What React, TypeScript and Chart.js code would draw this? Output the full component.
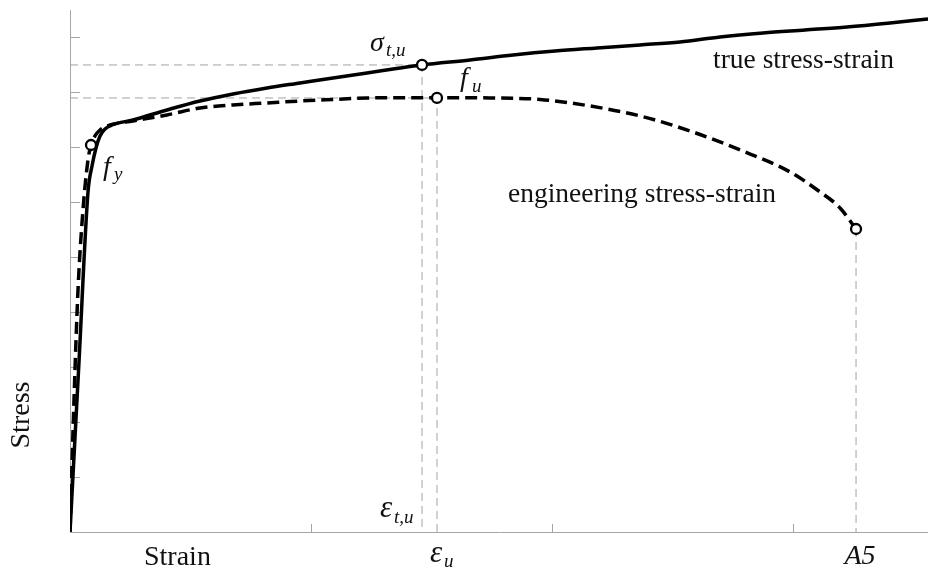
import React, { useEffect, useRef } from "react";
import { Chart, registerables } from "chart.js";

Chart.register(...registerables);

// ---- data (strain / stress in arbitrary units) ----
const trueStrain = [0, 0.0373, 0.0747, 0.0913, 0.1079, 0.1245, 0.1452, 0.1743, 0.2614, 0.4025, 0.5394, 0.6763, 0.8174, 0.9544, 1.0913, 1.2324, 1.3693, 1.4606, 1.6598, 1.8382, 2.0124, 2.1867, 2.3651, 2.5311, 2.6971, 2.8755, 3.0498, 3.2241, 3.4025, 3.5602];
const trueStress = [0, 3.091, 6.182, 6.655, 6.982, 7.2, 7.327, 7.4, 7.491, 7.673, 7.836, 7.964, 8.073, 8.164, 8.255, 8.345, 8.436, 8.491, 8.582, 8.673, 8.745, 8.8, 8.855, 8.909, 9.0, 9.073, 9.127, 9.182, 9.255, 9.327];

const engStrain = [0, 0.0166, 0.0332, 0.0539, 0.0747, 0.0871, 0.1037, 0.1245, 0.166, 0.2614, 0.4025, 0.5394, 0.6763, 0.8174, 0.9544, 1.0913, 1.2324, 1.3693, 1.5228, 1.7427, 1.9502, 2.1577, 2.3651, 2.5726, 2.7801, 2.9876, 3.112, 3.195, 3.2614];
const engStress = [0, 2.4, 4.4, 5.855, 6.764, 7.036, 7.2, 7.309, 7.4, 7.473, 7.582, 7.709, 7.764, 7.8, 7.836, 7.864, 7.891, 7.896, 7.896, 7.891, 7.864, 7.745, 7.564, 7.291, 6.945, 6.545, 6.182, 5.891, 5.509];

const xTickValues = [0, 1, 2, 3];
const yTickValues = [1, 2, 3, 4, 5, 6, 7, 8, 9];
const X_MAX = 3.56;
const Y_MAX = 9.49;

// key points
const epsY = 0.0871;
const fY = 7.036;
const epsTU = 1.4606;
const sigmaTU = 8.491;
const epsU = 1.5228;
const fU = 7.891;
const epsA5 = 3.2614;
const fA5 = 5.509;

const SERIF = '"Liberation Serif", "Times New Roman", Times, serif';
const AXIS = "#a6a6a6";
const GUIDE = "#a3a3a3";
const INK = "#111111";

const innerTicks = {
  id: "innerTicks",
  beforeDatasetsDraw(chart: any) {
    const { ctx, chartArea, scales } = chart;
    const xs = scales.x;
    const ys = scales.y;
    ctx.save();
    ctx.strokeStyle = AXIS;
    ctx.lineWidth = 1;
    ctx.beginPath();
    for (const t of xs.ticks) {
      const p = Math.round(xs.getPixelForValue(t.value)) + 0.5;
      ctx.moveTo(p, chartArea.bottom);
      ctx.lineTo(p, chartArea.bottom - 8);
    }
    for (const t of ys.ticks) {
      const p = Math.round(ys.getPixelForValue(t.value)) + 0.5;
      ctx.moveTo(chartArea.left, p);
      ctx.lineTo(chartArea.left + 10, p);
    }
    ctx.stroke();
    ctx.restore();
  },
};

const textLabels = {
  id: "textLabels",
  afterDraw(chart: any) {
    const { ctx, chartArea, scales } = chart;
    const px = (v: number) => scales.x.getPixelForValue(v);
    const py = (v: number) => scales.y.getPixelForValue(v);
    ctx.save();
    ctx.fillStyle = INK;
    ctx.textBaseline = "alphabetic";
    ctx.textAlign = "left";
    const sym = (main: string, sub: string, left: number, base: number, subDx: number, subDy: number, mainSize = 28) => {
      ctx.font = `italic ${mainSize}px ${SERIF}`;
      ctx.fillText(main, left, base);
      ctx.font = `italic 19px ${SERIF}`;
      ctx.fillText(sub, left + subDx, base + subDy);
    };

    ctx.font = `27.5px ${SERIF}`;
    ctx.fillText("true stress-strain", 713, 68);
    ctx.fillText("engineering stress-strain", 508, 202);

    sym("\u03C3", "t,u", px(epsTU) - 52, py(sigmaTU) - 14, 16, 5);
    sym("f", "u", px(epsU) + 23, py(fU) - 12, 12, 6);
    sym("f", "y", px(epsY) + 12, py(fY) + 30, 11, 5);
    sym("\u03B5", "t,u", px(epsTU) - 42, chartArea.bottom - 15, 14, 6, 31);
    sym("\u03B5", "u", px(epsU) - 7, chartArea.bottom + 30, 14, 5, 31);

    ctx.font = `italic 28px ${SERIF}`;
    ctx.textAlign = "center";
    ctx.fillText("A5", px(epsA5) + 4, chartArea.bottom + 32);

    ctx.font = `28px ${SERIF}`;
    ctx.textAlign = "left";
    ctx.fillText("Strain", 144, chartArea.bottom + 33);

    ctx.translate(22, 415);
    ctx.rotate(-Math.PI / 2);
    ctx.textAlign = "center";
    ctx.textBaseline = "middle";
    ctx.fillText("Stress", 0, 0);
    ctx.restore();
  },
};

export default function App() {
  const ref = useRef<HTMLCanvasElement | null>(null);

  useEffect(() => {
    document.body.style.margin = "0";
    const canvas = ref.current;
    if (!canvas) return;

    const toPts = (xs: number[], ys: number[]) => xs.map((v, i) => ({ x: v, y: ys[i] }));

    const chart = new Chart(canvas, {
      type: "scatter",
      data: {
        datasets: [
          {
            label: "points",
            data: [
              { x: epsY, y: fY },
              { x: epsTU, y: sigmaTU },
              { x: epsU, y: fU },
              { x: epsA5, y: fA5 },
            ],
            showLine: false,
            pointRadius: 5,
            pointBorderWidth: 2.3,
            pointBackgroundColor: "#ffffff",
            pointBorderColor: "#000000",
            order: 0,
            clip: false,
          } as any,
          {
            label: "true stress-strain",
            data: toPts(trueStrain, trueStress),
            showLine: true,
            borderColor: "#000000",
            borderWidth: 3.5,
            pointRadius: 0,
            cubicInterpolationMode: "monotone",
            order: 1,
          } as any,
          {
            label: "engineering stress-strain",
            data: toPts(engStrain, engStress),
            showLine: true,
            borderColor: "#000000",
            borderWidth: 3.5,
            borderDash: [12, 6],
            pointRadius: 0,
            cubicInterpolationMode: "monotone",
            order: 2,
          } as any,
          {
            label: "guide sigma",
            data: [
              { x: 0, y: sigmaTU },
              { x: epsTU, y: sigmaTU },
              { x: epsTU, y: 0 },
            ],
            showLine: true,
            borderColor: GUIDE,
            borderWidth: 1,
            borderDash: [8, 5],
            pointRadius: 0,
            order: 3,
          } as any,
          {
            label: "guide fu",
            data: [
              { x: 0, y: fU },
              { x: epsU, y: fU },
              { x: epsU, y: 0 },
            ],
            showLine: true,
            borderColor: GUIDE,
            borderWidth: 1,
            borderDash: [8, 5],
            pointRadius: 0,
            order: 3,
          } as any,
          {
            label: "guide A5",
            data: [
              { x: epsA5, y: fA5 },
              { x: epsA5, y: 0 },
            ],
            showLine: true,
            borderColor: GUIDE,
            borderWidth: 1,
            borderDash: [8, 5],
            pointRadius: 0,
            order: 3,
          } as any,
        ],
      },
      options: {
        responsive: false,
        devicePixelRatio: 1,
        animation: false,
        layout: { autoPadding: false, padding: { left: 70, right: 0, top: 10, bottom: 37 } },
        plugins: {
          legend: { display: false },
          tooltip: { enabled: false },
        },
        events: [],
        scales: {
          x: {
            type: "linear",
            min: 0,
            max: X_MAX,
            ticks: { display: false },
            grid: { display: false, drawTicks: false },
            border: { display: true, color: AXIS, width: 1 },
            afterBuildTicks: (s: any) => {
              s.ticks = xTickValues.map((v) => ({ value: v }));
            },
          },
          y: {
            type: "linear",
            min: 0,
            max: Y_MAX,
            ticks: { display: false },
            grid: { display: false, drawTicks: false },
            border: { display: true, color: AXIS, width: 1 },
            afterBuildTicks: (s: any) => {
              s.ticks = yTickValues.map((v) => ({ value: v }));
            },
          },
        },
      } as any,
      plugins: [innerTicks, textLabels],
    });

    return () => chart.destroy();
  }, []);

  return (
    <div style={{ position: "fixed", left: 0, top: 0, width: 928, height: 569, background: "#fff" }}>
      <canvas ref={ref} width={928} height={569} style={{ display: "block" }} />
    </div>
  );
}
